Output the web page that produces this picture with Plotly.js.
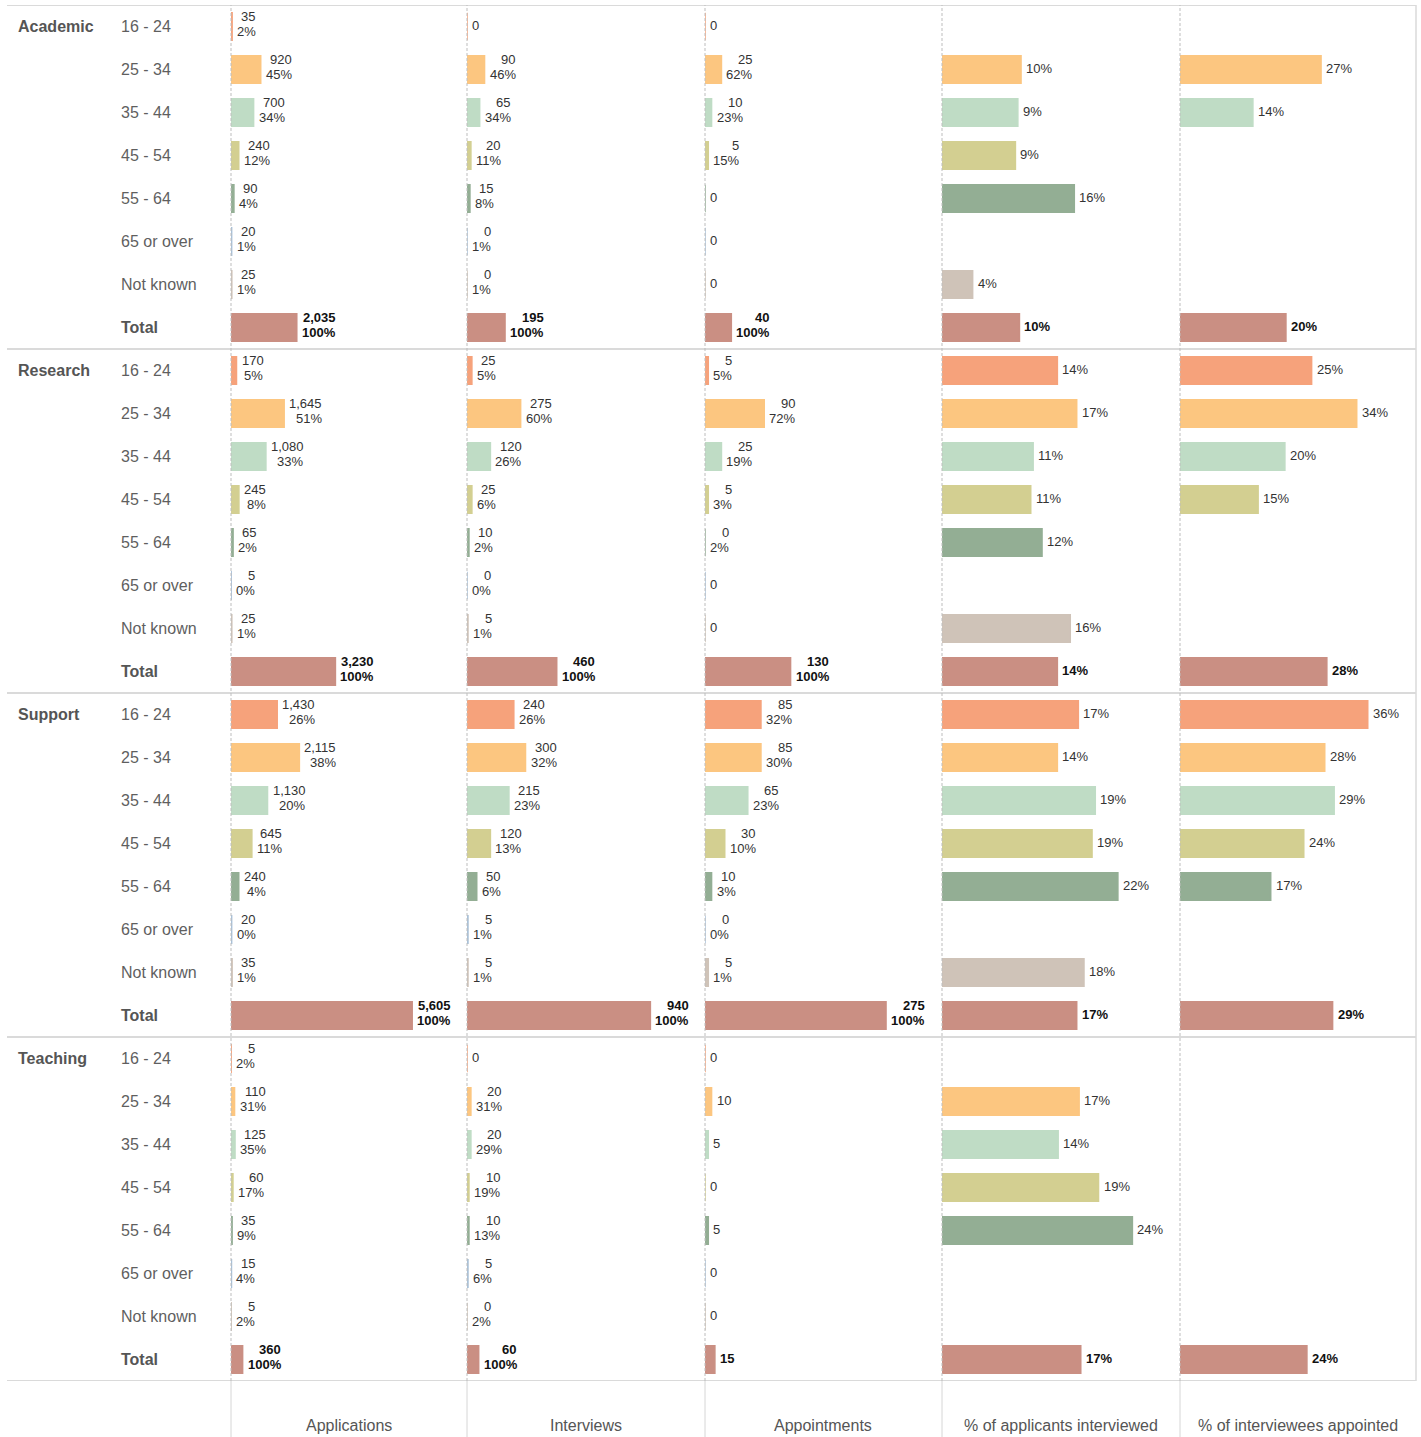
<!DOCTYPE html>
<html><head><meta charset="utf-8">
<script src="https://cdn.plot.ly/plotly-3.0.1.min.js"></script>
<style>html,body{margin:0;padding:0;background:#fff}#chart{width:1421px;height:1437px}</style>
</head><body><div id="chart"></div>
<script>
const groups = ["Academic", "Research", "Support", "Teaching"];
const ages = ["16 - 24", "25 - 34", "35 - 44", "45 - 54", "55 - 64", "65 or over", "Not known", "Total"];
const columnTitles = ["Applications", "Interviews", "Appointments", "% of applicants interviewed", "% of interviewees appointed"];
const ageColors = ["#F6A27B", "#FCC680", "#BFDCC5", "#D3CF91", "#93AE94", "#A9C1D9", "#CFC3B8", "#CA8F83"];

// order: Academic(8), Research(8), Support(8), Teaching(8)
const applications = [35, 920, 700, 240, 90, 20, 25, 2035,
  170, 1645, 1080, 245, 65, 5, 25, 3230,
  1430, 2115, 1130, 645, 240, 20, 35, 5605,
  5, 110, 125, 60, 35, 15, 5, 360];
const applicationsPct = [2, 45, 34, 12, 4, 1, 1, 100,
  5, 51, 33, 8, 2, 0, 1, 100,
  26, 38, 20, 11, 4, 0, 1, 100,
  2, 31, 35, 17, 9, 4, 2, 100];
const interviews = [0, 90, 65, 20, 15, 0, 0, 195,
  25, 275, 120, 25, 10, 0, 5, 460,
  240, 300, 215, 120, 50, 5, 5, 940,
  0, 20, 20, 10, 10, 5, 0, 60];
const interviewsPct = [null, 46, 34, 11, 8, 1, 1, 100,
  5, 60, 26, 6, 2, 0, 1, 100,
  26, 32, 23, 13, 6, 1, 1, 100,
  null, 31, 29, 19, 13, 6, 2, 100];
const appointments = [0, 25, 10, 5, 0, 0, 0, 40,
  5, 90, 25, 5, 0, 0, 0, 130,
  85, 85, 65, 30, 10, 0, 5, 275,
  0, 10, 5, 0, 5, 0, 0, 15];
const appointmentsPct = [null, 62, 23, 15, null, null, null, 100,
  5, 72, 19, 3, 2, null, null, 100,
  32, 30, 23, 10, 3, 0, 1, 100,
  null, null, null, null, null, null, null, null];
const pctInterviewed = [null, 9.8, 9.4, 9.1, 16.4, null, 3.8, 9.6,
  14.3, 16.7, 11.3, 11.0, 12.4, null, 15.9, 14.3,
  16.9, 14.3, 19.0, 18.6, 21.8, null, 17.6, 16.7,
  null, 17.0, 14.4, 19.4, 23.6, null, null, 17.2];
const pctAppointed = [null, 26.9, 13.9, null, null, null, null, 20.2,
  25.1, 33.7, 20.0, 14.9, null, null, null, 28.0,
  35.8, 27.6, 29.4, 23.6, 17.3, null, null, 29.1,
  null, null, null, null, null, null, null, 24.2];

const W = 1421, H = 1437;
const colEdges = [231, 467, 705, 942, 1180, 1416];
const ranges = [7300, 1220, 360, 29.5, 45];
const topPx = 5, botPx = 1381;
const FONT = "Liberation Sans, Arial, Helvetica, sans-serif";

const keys = [];
groups.forEach(g => ages.forEach(a => keys.push(g + "|" + a)));
const colors = keys.map((k, i) => ageColors[i % 8]);

const countPcts = [applicationsPct, interviewsPct, appointmentsPct];
const series = [applications, interviews, appointments, pctInterviewed, pctAppointed];

const data = series.map((vals, c) => ({
  type: "bar", orientation: "h",
  x: vals, y: keys,
  xaxis: "x" + (c ? c + 1 : ""), yaxis: "y",
  width: 0.645,
  marker: { color: colors, line: { color: colors, width: 1.5 } },
  hoverinfo: "x+y", showlegend: false
}));

const layout = {
  width: W, height: H,
  margin: { l: 0, r: 0, t: 0, b: 0 },
  paper_bgcolor: "#fff", plot_bgcolor: "rgba(0,0,0,0)",
  font: { family: FONT, size: 13, color: "#333" },
  yaxis: {
    type: "category", categoryorder: "array", categoryarray: keys,
    range: [keys.length - 0.5, -0.5],
    domain: [1 - botPx / H, 1 - topPx / H],
    showticklabels: false, showgrid: false, zeroline: false, showline: false, ticks: "",
    fixedrange: true
  },
  shapes: [], annotations: []
};
for (let c = 0; c < 5; c++) {
  layout["xaxis" + (c ? c + 1 : "")] = {
    domain: [colEdges[c] / W, colEdges[c + 1] / W],
    range: [0, ranges[c]], anchor: "y",
    showticklabels: false, showgrid: false, zeroline: false, showline: false, ticks: "",
    fixedrange: true
  };
}

// grid lines
for (let g = 0; g <= groups.length; g++) {
  layout.shapes.push({ type: "line", xref: "paper", yref: "y", x0: 7 / W, x1: 1416 / W,
    y0: -0.5 + 8 * g, y1: -0.5 + 8 * g, line: { color: "#DADADA", width: 2 }, layer: "below" });
}
for (let c = 0; c < 5; c++) {
  const xp = colEdges[c] / W;
  layout.shapes.push({ type: "line", xref: "paper", yref: "paper", x0: xp, x1: xp,
    y0: 1 - botPx / H, y1: 1 - topPx / H, line: { color: "#BDBDBD", width: 1, dash: "3px,2px" }, layer: "above" });
  layout.shapes.push({ type: "line", xref: "paper", yref: "paper", x0: xp, x1: xp,
    y0: 0, y1: 1 - botPx / H, line: { color: "#D6D6D6", width: 1 }, layer: "below" });
}
layout.shapes.push({ type: "line", xref: "paper", yref: "paper", x0: 1416 / W, x1: 1416 / W,
  y0: 1 - botPx / H, y1: 1 - topPx / H, line: { color: "#DADADA", width: 1.5 }, layer: "below" });

// row labels
keys.forEach((k, i) => {
  const a = i % 8, g = Math.floor(i / 8);
  const isTotal = a === 7;
  layout.annotations.push({ xref: "paper", yref: "y", x: 119 / W, y: k, xanchor: "left", yanchor: "middle",
    text: isTotal ? "<b>" + ages[a] + "</b>" : ages[a], showarrow: false,
    font: { family: FONT, size: 16, color: isTotal ? "#555" : "#5f5f5f" } });
  if (a === 0) {
    layout.annotations.push({ xref: "paper", yref: "y", x: 16 / W, y: k, xanchor: "left", yanchor: "middle",
      text: "<b>" + groups[g] + "</b>", showarrow: false, font: { family: FONT, size: 16, color: "#555" } });
  }
});

// text measuring for right-aligned two-line labels
const ctx = document.createElement("canvas").getContext("2d");
function textW(s, bold) {
  ctx.font = (bold ? "bold " : "") + "13px 'Liberation Sans', Arial, sans-serif";
  return ctx.measureText(s).width;
}

// bar labels
const fmt = v => v.toLocaleString("en-US");
for (let c = 0; c < 5; c++) {
  const xr = "x" + (c ? c + 1 : "");
  keys.forEach((k, i) => {
    const isTotal = i % 8 === 7;
    const v = series[c][i];
    if (v === null || v === undefined) return;
    const font = { family: FONT, size: 13, color: isTotal ? "#111" : "#333" };
    const wrap = s => isTotal ? "<b>" + s + "</b>" : s;
    const base = { xref: xr, yref: "y", x: v, y: k, xanchor: "left", yanchor: "middle", showarrow: false, font };
    if (c < 3) {
      const p = countPcts[c][i];
      const l1 = fmt(v);
      if (p === null) {
        layout.annotations.push(Object.assign({}, base, { text: wrap(l1), xshift: 3, yshift: 1.5 }));
      } else {
        const l2 = p + "%";
        const w1 = textW(l1, isTotal), w2 = textW(l2, isTotal);
        const mw = Math.max(w1, w2);
        layout.annotations.push(Object.assign({}, base, { text: wrap(l1), xshift: 3 + (mw - w1), yshift: 10 }));
        layout.annotations.push(Object.assign({}, base, { text: wrap(l2), xshift: 3 + (mw - w2), yshift: -4.5 }));
      }
    } else {
      layout.annotations.push(Object.assign({}, base, { text: wrap(Math.round(v) + "%"), xshift: 3, yshift: 1.5 }));
    }
  });
}

// column titles
columnTitles.forEach((t, c) => {
  layout.annotations.push({ xref: "paper", yref: "paper", x: (colEdges[c] + colEdges[c + 1]) / 2 / W,
    y: 1 - 1425 / H, xanchor: "center", yanchor: "middle", text: t, showarrow: false,
    font: { family: FONT, size: 16, color: "#555" } });
});

Plotly.newPlot("chart", data, layout, { displayModeBar: false, staticPlot: true });
</script></body></html>
